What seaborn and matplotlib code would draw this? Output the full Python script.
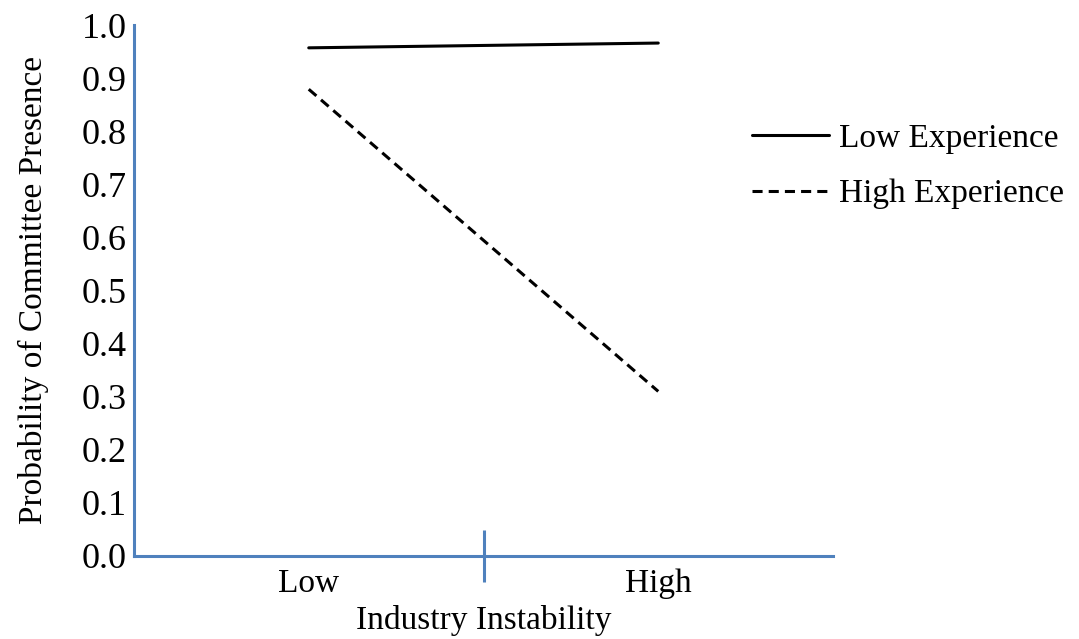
import matplotlib
matplotlib.use("Agg")
import matplotlib.pyplot as plt
import seaborn as sns
import pandas as pd

categories = ["Low", "High"]
series_names = ["Low Experience", "High Experience"]
low_experience = [0.957, 0.966]
high_experience = [0.879, 0.310]
y_ticks = [0.0, 0.1, 0.2, 0.3, 0.4, 0.5, 0.6, 0.7, 0.8, 0.9, 1.0]

rows = []
for name, vals in zip(series_names, [low_experience, high_experience]):
    for c, v in zip(categories, vals):
        rows.append({"Industry Instability": c, "Experience": name, "Probability": v})
df = pd.DataFrame(rows)

sns.set_theme(style="white")
plt.rcParams["font.family"] = ["Liberation Serif", "DejaVu Serif"]
plt.rcParams["text.color"] = "black"
plt.rcParams["axes.labelcolor"] = "black"
plt.rcParams["xtick.color"] = "black"
plt.rcParams["ytick.color"] = "black"

fig = plt.figure(figsize=(10.79, 6.39), dpi=100)
ax = fig.add_axes([134 / 1079, 83 / 639, (833 - 134) / 1079, (556 - 25) / 639])

sns.lineplot(data=df, x="Industry Instability", y="Probability", hue="Experience",
             style="Experience", hue_order=series_names, style_order=series_names,
             palette=["black", "black"],
             dashes={"Low Experience": "", "High Experience": (3.3, 2.0)},
             linewidth=2.2, ax=ax, sort=False)

ax.set_xlim(-0.5, 1.5)
ax.set_ylim(0, 1.0)
ax.set_yticks(y_ticks)
ax.set_yticklabels([f"{t:.1f}" for t in y_ticks], fontsize=26)
ax.set_xticks([0, 1])
ax.set_xticklabels(categories, fontsize=24)
ax.set_xticks([0.5], minor=True)
ax.tick_params(axis="x", which="major", length=0, pad=9)
ax.tick_params(axis="x", which="minor", direction="inout", length=37, width=2.2,
               color="#4F81BD", bottom=True)
ax.tick_params(axis="y", length=0, pad=5)

for s in ["top", "right"]:
    ax.spines[s].set_visible(False)
for s in ["left", "bottom"]:
    ax.spines[s].set_color("#4F81BD")
    ax.spines[s].set_linewidth(2.2)

ax.set_xlabel("Industry Instability", fontsize=24, labelpad=4)
ax.set_ylabel("Probability of Committee Presence", fontsize=24, labelpad=24)

leg = ax.legend(loc="upper left", bbox_to_anchor=(739 / 1079, 1 - 110 / 639),
                bbox_transform=fig.transFigure, frameon=False, fontsize=24,
                handlelength=2.3, handletextpad=0.3, labelspacing=0.75, borderaxespad=0)
for line in leg.get_lines():
    line.set_linewidth(2.2)

fig.savefig("out.png", dpi=100)
